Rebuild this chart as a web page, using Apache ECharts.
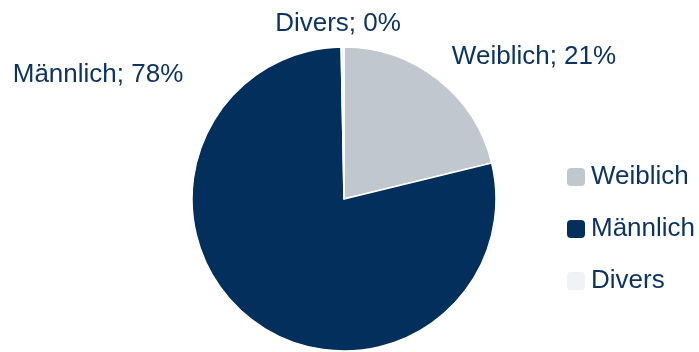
<!DOCTYPE html>
<html>
<head>
<meta charset="utf-8">
<script src="https://cdn.jsdelivr.net/npm/echarts@6/dist/echarts.min.js"></script>
<style>
  html, body { margin: 0; padding: 0; background: #ffffff; }
  #chart { width: 699px; height: 352px; }
</style>
</head>
<body>
<div id="chart"></div>
<script>
// Geschlechterverteilung (Anteile in %)
const categories = ['Weiblich', 'Männlich', 'Divers'];
const shares = [21.2, 78.5, 0.3];
const shownPercent = [21, 78, 0];
const sliceColors = ['#c0c7cf', '#022f5c', '#f0f2f5'];

const textColor = '#0d3461';
const fontFamily = '"Liberation Sans", Arial, sans-serif';
const fontSize = 26;

// label anchor points (px), chosen per slice like a "best fit" layout
const labelAnchors = [
  { x: 534, y: 57 },
  { x: 98, y: 75 },
  { x: 338, y: 24 }
];

const chart = echarts.init(document.getElementById('chart'), null, { renderer: 'canvas' });

chart.setOption({
  animation: false,
  backgroundColor: '#ffffff',
  color: sliceColors,
  legend: {
    orient: 'vertical',
    left: 565,
    top: 164,
    padding: 0,
    itemWidth: 20,
    itemHeight: 20,
    itemGap: 26,
    icon: 'roundRect',
    data: categories,
    textStyle: {
      color: textColor,
      fontSize: fontSize,
      fontFamily: fontFamily
    }
  },
  series: [{
    type: 'pie',
    center: [344, 199],
    radius: [0, 152],
    startAngle: 90,
    clockwise: true,
    avoidLabelOverlap: false,
    itemStyle: { borderColor: '#ffffff', borderWidth: 1.5 },
    label: {
      show: true,
      position: 'outside',
      color: textColor,
      fontSize: fontSize,
      fontFamily: fontFamily,
      formatter: function (p) {
        return p.name + '; ' + shownPercent[p.dataIndex] + '%';
      }
    },
    labelLine: { show: false },
    labelLayout: function (params) {
      const a = labelAnchors[params.dataIndex];
      return { x: a.x, y: a.y, align: 'center', verticalAlign: 'middle' };
    },
    emphasis: { disabled: true },
    data: categories.map(function (name, i) {
      return { name: name, value: shares[i] };
    })
  }]
});
</script>
</body>
</html>
